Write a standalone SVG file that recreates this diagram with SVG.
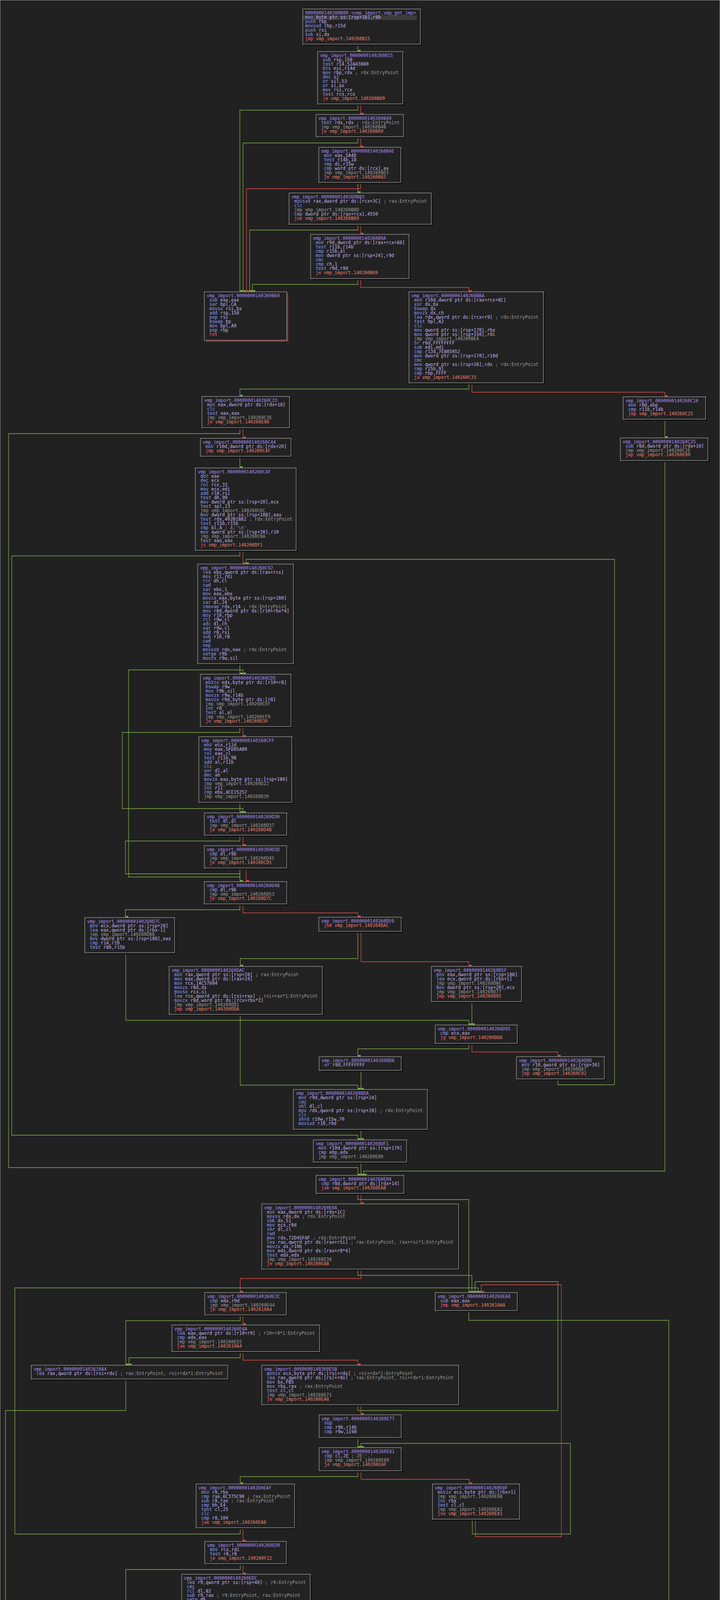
<svg xmlns="http://www.w3.org/2000/svg" width="1843" height="6211" viewBox="0 0 1843 6211">
<defs>
<style>
text{font-family:"DejaVu Sans Mono","Liberation Mono",monospace;font-size:11.5px;fill:#c4b2f2}
.h{fill:#a98cf5}.m{fill:#8c9dff}.g{fill:#9c9c9c}.c{fill:#9c9c9c}.r{fill:#ff5c7c}.n{fill:#f07f6c}
.bx{fill:#222222;stroke:#8e8e8e;stroke-width:1.5}
.sh{fill:#121212}.shr{fill:#8c2c2c}.shb{fill:#7b92f2}
.eg{fill:none;stroke:#80b34c;stroke-width:1.3}
.er{fill:none;stroke:#e84c4c;stroke-width:1.3}
</style>
<marker id="ag" viewBox="0 0 8 8" refX="4" refY="8" markerWidth="8" markerHeight="8" markerUnits="userSpaceOnUse" orient="auto-start-reverse"><path d="M0,0 L8,0 L4,8 Z" fill="#80b34c" transform="rotate(-90 4 4)"/></marker>
<marker id="ar" viewBox="0 0 8 8" refX="4" refY="8" markerWidth="8" markerHeight="8" markerUnits="userSpaceOnUse" orient="auto-start-reverse"><path d="M0,0 L8,0 L4,8 Z" fill="#e84c4c" transform="rotate(-90 4 4)"/></marker>
</defs>
<rect x="0" y="0" width="1843" height="6211" fill="#212121"/>
<rect x="0.5" y="0.5" width="1842" height="6210" fill="none" stroke="#9a9a9a"/>

<g id="connectors">
<path class="eg" marker-end="url(#ag)" d="M916,113V132"/>
<path class="er" marker-end="url(#ar)" d="M923,267V293"/>
<path class="eg" marker-end="url(#ag)" d="M916,267V282H614V747"/>
<path class="er" marker-end="url(#ar)" d="M923,351V377"/>
<path class="eg" marker-end="url(#ag)" d="M916,351V366H622V747"/>
<path class="eg" marker-end="url(#ag)" d="M916,468V494"/>
<path class="er" marker-end="url(#ar)" d="M923,468V483H631V747"/>
<path class="er" marker-end="url(#ar)" d="M923,574V600"/>
<path class="eg" marker-end="url(#ag)" d="M916,574V589H639V747"/>
<path class="eg" marker-end="url(#ag)" d="M916,714V728H646V747"/>
<path class="er" marker-end="url(#ar)" d="M923,714V736H1200V747"/>
<path class="eg" marker-end="url(#ag)" d="M1200,980V996H614V1015"/>
<path class="er" marker-end="url(#ar)" d="M1208,980V1004H1702V1016"/>
<path class="eg" marker-end="url(#ag)" d="M1702,1073V1121"/>
<path class="er" marker-end="url(#ar)" d="M622,1096V1122"/>
<path class="eg" marker-end="url(#ag)" d="M614,1096V1110H22V2989H916V3009"/>
<path class="eg" marker-end="url(#ag)" d="M614,1168V1198"/>
<path class="er" marker-end="url(#ar)" d="M622,1409V1444"/>
<path class="eg" marker-end="url(#ag)" d="M614,1409V1423H30V2906H916V2918"/>
<path class="eg" marker-end="url(#ag)" d="M1428,2762V2777H1573V1432H630V1444"/>
<path class="eg" marker-end="url(#ag)" d="M614,1699V1726"/>
<path class="er" marker-end="url(#ar)" d="M622,1860V1886"/>
<path class="eg" marker-end="url(#ag)" d="M614,1860V1875H313V2070H622V2081"/>
<path class="eg" marker-end="url(#ag)" d="M614,2054V2081"/>
<path class="er" marker-end="url(#ar)" d="M622,2138V2165"/>
<path class="eg" marker-end="url(#ag)" d="M614,2138V2153H321V2237H614V2257"/>
<path class="er" marker-end="url(#ar)" d="M630,2222V2257"/>
<path class="eg" marker-end="url(#ag)" d="M614,2222V2245H329V1715H622V1726"/>
<path class="er" marker-end="url(#ar)" d="M622,2314V2337H916V2348"/>
<path class="eg" marker-end="url(#ag)" d="M614,2314V2329H321V2349"/>
<path class="eg" marker-end="url(#ag)" d="M916,2384V2454H615V2474"/>
<path class="er" marker-end="url(#ar)" d="M924,2384V2462H1200V2474"/>
<path class="eg" marker-end="url(#ag)" d="M322,2439V2612H1200V2624"/>
<path class="eg" marker-end="url(#ag)" d="M1208,2563V2624"/>
<path class="eg" marker-end="url(#ag)" d="M1200,2671V2685H916V2705"/>
<path class="er" marker-end="url(#ar)" d="M1208,2671V2693H1428V2705"/>
<path class="eg" marker-end="url(#ag)" d="M924,2740V2789"/>
<path class="eg" marker-end="url(#ag)" d="M615,2597V2778H916V2789"/>
<path class="eg" marker-end="url(#ag)" d="M924,2891V2918"/>
<path class="eg" marker-end="url(#ag)" d="M924,2974V3009"/>
<path class="eg" marker-end="url(#ag)" d="M1702,1179V2998H931V3009"/>
<path class="er" marker-end="url(#ar)" d="M924,3055V3082"/>
<path class="eg" marker-end="url(#ag)" d="M916,3055V3071H1200V3309"/>
<path class="er" marker-end="url(#ar)" d="M924,3249V3273H615V3309"/>
<path class="eg" marker-end="url(#ag)" d="M916,3249V3265H1208V3309"/>
<path class="er" marker-end="url(#ar)" d="M622,3366V3392"/>
<path class="eg" marker-end="url(#ag)" d="M615,3366V3381H322V3495"/>
<path class="eg" marker-end="url(#ag)" d="M615,3460V3476H330V3495"/>
<path class="er" marker-end="url(#ar)" d="M622,3460V3482H916V3495"/>
<path class="eg" marker-end="url(#ag)" d="M322,3530V3611H14V4846H615V4858"/>
<path class="er" marker-end="url(#ar)" d="M924,3596V3622"/>
<path class="eg" marker-end="url(#ag)" d="M916,3596V3611H1428V3281H1216V3309"/>
<path class="eg" marker-end="url(#ag)" d="M916,3680V3706"/>
<path class="eg" marker-end="url(#ag)" d="M916,3765V3780H615V3799"/>
<path class="er" marker-end="url(#ar)" d="M924,3765V3787H1201V3799"/>
<path class="eg" marker-end="url(#ag)" d="M1209,3888V3927H1460V3695H924V3706"/>
<path class="er" marker-end="url(#ar)" d="M1217,3888V3934H1437V3289H1232V3309"/>
<path class="er" marker-end="url(#ar)" d="M622,3911V3946"/>
<path class="eg" marker-end="url(#ag)" d="M615,3911V3927H38V3297H1224V3309"/>
<path class="er" marker-end="url(#ar)" d="M622,4003V4030"/>
<path class="eg" marker-end="url(#ag)" d="M615,4003V4018H322V4412H615V4430"/>
<path class="eg" marker-end="url(#ag)" d="M615,4131V4158"/>
<path class="er" marker-end="url(#ar)" d="M622,4248V4275"/>
<path class="eg" marker-end="url(#ag)" d="M615,4248V4263H330V4418H622V4430"/>
<path class="eg" marker-end="url(#ag)" d="M630,4388V4404H337V4147H622V4158"/>
<path class="er" marker-end="url(#ar)" d="M638,4388V4430"/>
<path class="er" marker-end="url(#ar)" d="M622,4619V4646"/>
<path class="eg" marker-end="url(#ag)" d="M615,4619V4634H322V4838H615V4858"/>
<path class="eg" marker-end="url(#ag)" d="M615,4726V4744"/>
<path class="er" marker-end="url(#ar)" d="M622,4823V4858"/>
<path class="eg" marker-end="url(#ag)" d="M615,4903V4923"/>
<path class="eg" marker-end="url(#ag)" d="M615,4958V4972H322V4993"/>
<path class="er" marker-end="url(#ar)" d="M622,4958V4980H916V4993"/>
<path class="er" marker-end="url(#ar)" d="M329,5072V5098"/>
<path class="eg" marker-end="url(#ag)" d="M322,5072V5087H25V5905H322V5917"/>
<path class="er" marker-end="url(#ar)" d="M329,5177V5215"/>
<path class="eg" marker-end="url(#ag)" d="M322,5177V5204H38V5764H322V5789"/>
<path class="eg" marker-end="url(#ag)" d="M322,5261V5454"/>
<path class="er" marker-end="url(#ar)" d="M329,5578V5612"/>
<path class="eg" marker-end="url(#ag)" d="M322,5578V5593H45V5771H329V5789"/>
<path class="eg" marker-end="url(#ag)" d="M337,5746V5778H52V5442H329V5454"/>
<path class="er" marker-end="url(#ar)" d="M346,5746V5789"/>
<path class="eg" marker-end="url(#ag)" d="M329,5846V5917"/>
<path class="eg" marker-end="url(#ag)" d="M345,5996V6039"/>
<path class="er" marker-end="url(#ar)" d="M924,5050V5098"/>
<path class="eg" marker-end="url(#ag)" d="M916,5050V5087H615V5762H916V5789"/>
<path class="eg" marker-end="url(#ag)" d="M916,5188V5215"/>
<path class="er" marker-end="url(#ar)" d="M924,5427V5454"/>
<path class="eg" marker-end="url(#ag)" d="M916,5427V5442H622V5592H916V5612"/>
<path class="eg" marker-end="url(#ag)" d="M924,5544V5599H630V5205H924V5215"/>
<path class="er" marker-end="url(#ar)" d="M931,5544V5612"/>
<path class="eg" marker-end="url(#ag)" d="M924,5669V5789"/>
<path class="eg" marker-end="url(#ag)" d="M916,5890V6027H337V6039"/>
<path class="eg" marker-end="url(#ag)" d="M1200,3355V3380H1712V6019H329V6039"/>
<path class="eg" marker-end="url(#ag)" d="M6,6011H321V6039"/>
</g>

<g id="n_B00"><rect class="sh" x="779" y="27" width="301" height="90"/><rect class="bx" x="775" y="23" width="301" height="90"/><rect x="776" y="39" width="291" height="12" fill="#3c3c3c"/>
<text x="781" y="37"><tspan class="h">0000000140260B00 &lt;vmp_import.vmp_get_imp&gt;</tspan><tspan x="781" dy="11"><tspan class="m">mov</tspan> byte ptr ss:[rsp+18],r8b</tspan><tspan x="781" dy="11"><tspan class="m">push</tspan> rbp</tspan><tspan x="781" dy="11"><tspan class="m">movsxd</tspan> rbp,r15d</tspan><tspan x="781" dy="11"><tspan class="m">push</tspan> rsi</tspan><tspan x="781" dy="11"><tspan class="m">sub</tspan> si,dx</tspan><tspan x="781" dy="11"><tspan class="r">jmp</tspan> <tspan class="n">vmp_import.140260B15</tspan></tspan></text></g>

<g id="n_B15"><rect class="sh" x="817" y="136" width="218" height="134"/><rect class="bx" x="813" y="132" width="218" height="134"/>
<text x="819" y="146"><tspan class="h">vmp_import.0000000140260B15</tspan><tspan x="826" dy="11"><tspan class="m">sub</tspan> rsp,158</tspan><tspan x="826" dy="11"><tspan class="m">test</tspan> r14,52A43880</tspan><tspan x="826" dy="11"><tspan class="m">bts</tspan> esi,r14d</tspan><tspan x="826" dy="11"><tspan class="m">mov</tspan> rbp,rdx <tspan class="c">; rdx:EntryPoint</tspan></tspan><tspan x="826" dy="11"><tspan class="m">dec</tspan> si</tspan><tspan x="826" dy="11"><tspan class="m">or</tspan> sil,53</tspan><tspan x="826" dy="11"><tspan class="m">or</tspan> si,ax</tspan><tspan x="826" dy="11"><tspan class="m">mov</tspan> rsi,rcx</tspan><tspan x="826" dy="11"><tspan class="m">test</tspan> rcx,rcx</tspan><tspan x="826" dy="11"><tspan class="r">je</tspan> <tspan class="n">vmp_import.140260B69</tspan></tspan></text></g>

<g id="n_B40"><rect class="sh" x="813" y="297" width="224" height="57"/><rect class="bx" x="809" y="293" width="224" height="57"/>
<text x="815" y="307"><tspan class="h">vmp_import.0000000140260B40</tspan><tspan x="822" dy="11"><tspan class="m">test</tspan> rdx,rdx <tspan class="c">; rdx:EntryPoint</tspan></tspan><tspan x="822" dy="11" class="g">jmp vmp_import.140260B48</tspan><tspan x="822" dy="11"><tspan class="r">je</tspan> <tspan class="n">vmp_import.140260B69</tspan></tspan></text></g>

<g id="n_B4E"><rect class="sh" x="820" y="381" width="210" height="90"/><rect class="bx" x="816" y="377" width="210" height="90"/>
<text x="822" y="391"><tspan class="h">vmp_import.0000000140260B4E</tspan><tspan x="829" dy="11"><tspan class="m">mov</tspan> eax,5A4D</tspan><tspan x="829" dy="11"><tspan class="m">test</tspan> r14b,18</tspan><tspan x="829" dy="11"><tspan class="m">cmp</tspan> di,r15w</tspan><tspan x="829" dy="11"><tspan class="m">cmp</tspan> word ptr ds:[rcx],ax</tspan><tspan x="829" dy="11" class="g">jmp vmp_import.140260B63</tspan><tspan x="829" dy="11"><tspan class="r">je</tspan> <tspan class="n">vmp_import.140260B83</tspan></tspan></text></g>

<g id="n_B83"><rect class="sh" x="744" y="498" width="364" height="80"/><rect class="bx" x="740" y="494" width="364" height="80"/>
<text x="746" y="508"><tspan class="h">vmp_import.0000000140260B83</tspan><tspan x="753" dy="11"><tspan class="m">movsxd</tspan> rax,dword ptr ds:[rcx+3C] <tspan class="c">; rax:EntryPoint</tspan></tspan><tspan x="753" dy="11"><tspan class="m">clc</tspan></tspan><tspan x="753" dy="11" class="g">jmp vmp_import.140260B8D</tspan><tspan x="753" dy="11"><tspan class="m">cmp</tspan> dword ptr ds:[rax+rcx],4550</tspan><tspan x="753" dy="11"><tspan class="r">jne</tspan> <tspan class="n">vmp_import.140260B69</tspan></tspan></text></g>

<g id="n_B9A"><rect class="sh" x="799" y="604" width="252" height="113"/><rect class="bx" x="795" y="600" width="252" height="113"/>
<text x="801" y="614"><tspan class="h">vmp_import.0000000140260B9A</tspan><tspan x="808" dy="11"><tspan class="m">mov</tspan> r9d,dword ptr ds:[rax+rcx+88]</tspan><tspan x="808" dy="11"><tspan class="m">test</tspan> r11b,r14b</tspan><tspan x="808" dy="11"><tspan class="m">cmp</tspan> r15b,al</tspan><tspan x="808" dy="11"><tspan class="m">mov</tspan> dword ptr ss:[rsp+24],r9d</tspan><tspan x="808" dy="11"><tspan class="m">cmc</tspan></tspan><tspan x="808" dy="11"><tspan class="m">cmp</tspan> ch,1</tspan><tspan x="808" dy="11"><tspan class="m">test</tspan> r9d,r9d</tspan><tspan x="808" dy="11"><tspan class="r">je</tspan> <tspan class="n">vmp_import.140260B69</tspan></tspan></text></g>

<g id="n_B69"><rect class="shr" x="527" y="751" width="211" height="124"/><rect class="bx" x="523" y="747" width="211" height="124"/>
<text x="529" y="761"><tspan class="h">vmp_import.0000000140260B69</tspan><tspan x="536" dy="11"><tspan class="m">sub</tspan> eax,eax</tspan><tspan x="536" dy="11"><tspan class="m">sar</tspan> bpl,CA</tspan><tspan x="536" dy="11"><tspan class="m">movsx</tspan> rsi,bx</tspan><tspan x="536" dy="11"><tspan class="m">add</tspan> rsp,158</tspan><tspan x="536" dy="11"><tspan class="m">pop</tspan> rsi</tspan><tspan x="536" dy="11"><tspan class="m">bswap</tspan> bp</tspan><tspan x="536" dy="11"><tspan class="m">mov</tspan> bpl,A9</tspan><tspan x="536" dy="11"><tspan class="m">pop</tspan> rbp</tspan><tspan x="536" dy="11" class="r">ret</tspan></text></g>

<g id="n_BBA"><rect class="sh" x="1051" y="751" width="344" height="233"/><rect class="bx" x="1047" y="747" width="344" height="233"/>
<text x="1053" y="761"><tspan class="h">vmp_import.0000000140260BBA</tspan><tspan x="1060" dy="11"><tspan class="m">mov</tspan> r10d,dword ptr ds:[rax+rcx+8C]</tspan><tspan x="1060" dy="11"><tspan class="m">xor</tspan> dx,bx</tspan><tspan x="1060" dy="11"><tspan class="m">bswap</tspan> dx</tspan><tspan x="1060" dy="11"><tspan class="m">movzx</tspan> dx,ch</tspan><tspan x="1060" dy="11"><tspan class="m">lea</tspan> rdx,qword ptr ds:[rcx+r9] <tspan class="c">; rdx:EntryPoint</tspan></tspan><tspan x="1060" dy="11"><tspan class="m">test</tspan> bpl,A2</tspan><tspan x="1060" dy="11"><tspan class="m">clc</tspan></tspan><tspan x="1060" dy="11"><tspan class="m">mov</tspan> qword ptr ss:[rsp+178],rbx</tspan><tspan x="1060" dy="11"><tspan class="m">mov</tspan> qword ptr ss:[rsp+150],rdi</tspan><tspan x="1060" dy="11" class="g">jmp vmp_import.140260BEA</tspan><tspan x="1060" dy="11"><tspan class="m">or</tspan> r8d,FFFFFFFF</tspan><tspan x="1060" dy="11"><tspan class="m">sub</tspan> edi,edi</tspan><tspan x="1060" dy="11"><tspan class="m">cmp</tspan> r13d,7E885052</tspan><tspan x="1060" dy="11"><tspan class="m">mov</tspan> dword ptr ss:[rsp+170],r10d</tspan><tspan x="1060" dy="11"><tspan class="m">cmc</tspan></tspan><tspan x="1060" dy="11"><tspan class="m">mov</tspan> qword ptr ss:[rsp+28],rdx <tspan class="c">; rdx:EntryPoint</tspan></tspan><tspan x="1060" dy="11"><tspan class="m">cmp</tspan> r15b,91</tspan><tspan x="1060" dy="11"><tspan class="m">cmp</tspan> rbp,FFFF</tspan><tspan x="1060" dy="11"><tspan class="r">ja</tspan> <tspan class="n">vmp_import.140260C33</tspan></tspan></text></g>

<g id="n_C33"><rect class="sh" x="521" y="1019" width="224" height="80"/><rect class="bx" x="517" y="1015" width="224" height="80"/>
<text x="523" y="1029"><tspan class="h">vmp_import.0000000140260C33</tspan><tspan x="530" dy="11"><tspan class="m">mov</tspan> eax,dword ptr ds:[rdx+18]</tspan><tspan x="530" dy="11"><tspan class="m">clc</tspan></tspan><tspan x="530" dy="11"><tspan class="m">test</tspan> eax,eax</tspan><tspan x="530" dy="11" class="g">jmp vmp_import.140260C3E</tspan><tspan x="530" dy="11"><tspan class="r">je</tspan> <tspan class="n">vmp_import.140260E00</tspan></tspan></text></g>

<g id="n_C16"><rect class="sh" x="1599" y="1020" width="211" height="57"/><rect class="bx" x="1595" y="1016" width="211" height="57"/>
<text x="1601" y="1030"><tspan class="h">vmp_import.0000000140260C16</tspan><tspan x="1608" dy="11"><tspan class="m">mov</tspan> r8d,ebp</tspan><tspan x="1608" dy="11"><tspan class="m">cmp</tspan> r11b,r14b</tspan><tspan x="1608" dy="11"><tspan class="r">jmp</tspan> <tspan class="n">vmp_import.140260C25</tspan></tspan></text></g>

<g id="n_C25"><rect class="sh" x="1592" y="1125" width="224" height="58"/><rect class="bx" x="1588" y="1121" width="224" height="58"/>
<text x="1594" y="1135"><tspan class="h">vmp_import.0000000140260C25</tspan><tspan x="1601" dy="11"><tspan class="m">sub</tspan> r8d,dword ptr ds:[rdx+10]</tspan><tspan x="1601" dy="11" class="g">jmp vmp_import.140260C2E</tspan><tspan x="1601" dy="11"><tspan class="r">jmp</tspan> <tspan class="n">vmp_import.140260E00</tspan></tspan></text></g>

<g id="n_C44"><rect class="sh" x="517" y="1126" width="232" height="46"/><rect class="bx" x="513" y="1122" width="232" height="46"/>
<text x="519" y="1136"><tspan class="h">vmp_import.0000000140260C44</tspan><tspan x="526" dy="11"><tspan class="m">mov</tspan> r10d,dword ptr ds:[rdx+20]</tspan><tspan x="526" dy="11"><tspan class="r">jmp</tspan> <tspan class="n">vmp_import.140260C4F</tspan></tspan></text></g>

<g id="n_C4F"><rect class="sh" x="504" y="1202" width="258" height="211"/><rect class="bx" x="500" y="1198" width="258" height="211"/>
<text x="506" y="1212"><tspan class="h">vmp_import.0000000140260C4F</tspan><tspan x="513" dy="11"><tspan class="m">dec</tspan> eax</tspan><tspan x="513" dy="11"><tspan class="m">dec</tspan> ecx</tspan><tspan x="513" dy="11"><tspan class="m">rol</tspan> rcx,33</tspan><tspan x="513" dy="11"><tspan class="m">mov</tspan> ecx,edi</tspan><tspan x="513" dy="11"><tspan class="m">add</tspan> r10,rsi</tspan><tspan x="513" dy="11"><tspan class="m">test</tspan> dh,99</tspan><tspan x="513" dy="11"><tspan class="m">mov</tspan> dword ptr ss:[rsp+20],ecx</tspan><tspan x="513" dy="11"><tspan class="m">test</tspan> spl,13</tspan><tspan x="513" dy="11" class="g">jmp vmp_import.140260C6C</tspan><tspan x="513" dy="11"><tspan class="m">mov</tspan> dword ptr ss:[rsp+188],eax</tspan><tspan x="513" dy="11"><tspan class="m">test</tspan> rdx,402B1B82 <tspan class="c">; rdx:EntryPoint</tspan></tspan><tspan x="513" dy="11"><tspan class="m">test</tspan> r15b,r15b</tspan><tspan x="513" dy="11"><tspan class="m">cmp</tspan> bl,A <tspan class="c">; A:'\n'</tspan></tspan><tspan x="513" dy="11"><tspan class="m">mov</tspan> qword ptr ss:[rsp+30],r10</tspan><tspan x="513" dy="11" class="g">jmp vmp_import.140260C8A</tspan><tspan x="513" dy="11"><tspan class="m">test</tspan> eax,eax</tspan><tspan x="513" dy="11"><tspan class="r">js</tspan> <tspan class="n">vmp_import.140260DF1</tspan></tspan></text></g>

<g id="n_C92"><rect class="sh" x="510" y="1448" width="245" height="255"/><rect class="bx" x="506" y="1444" width="245" height="255"/>
<text x="512" y="1458"><tspan class="h">vmp_import.0000000140260C92</tspan><tspan x="519" dy="11"><tspan class="m">lea</tspan> ebx,qword ptr ds:[rax+rcx]</tspan><tspan x="519" dy="11"><tspan class="m">mov</tspan> r11,rdi</tspan><tspan x="519" dy="11"><tspan class="m">rcr</tspan> dh,cl</tspan><tspan x="519" dy="11"><tspan class="m">cwd</tspan></tspan><tspan x="519" dy="11"><tspan class="m">sar</tspan> ebx,1</tspan><tspan x="519" dy="11"><tspan class="m">mov</tspan> eax,ebx</tspan><tspan x="519" dy="11"><tspan class="m">movzx</tspan> eax,byte ptr ss:[rsp+180]</tspan><tspan x="519" dy="11"><tspan class="m">sar</tspan> dl,24</tspan><tspan x="519" dy="11"><tspan class="m">cmovae</tspan> rdx,r14 <tspan class="c">; rdx:EntryPoint</tspan></tspan><tspan x="519" dy="11"><tspan class="m">mov</tspan> r8d,dword ptr ds:[r10+rbx*4]</tspan><tspan x="519" dy="11"><tspan class="m">mov</tspan> r10,rbp</tspan><tspan x="519" dy="11"><tspan class="m">rcl</tspan> r9w,cl</tspan><tspan x="519" dy="11"><tspan class="m">adc</tspan> dl,ch</tspan><tspan x="519" dy="11"><tspan class="m">sar</tspan> r9w,cl</tspan><tspan x="519" dy="11"><tspan class="m">add</tspan> r8,rsi</tspan><tspan x="519" dy="11"><tspan class="m">sub</tspan> r10,r8</tspan><tspan x="519" dy="11"><tspan class="m">cwd</tspan></tspan><tspan x="519" dy="11"><tspan class="m">nop</tspan></tspan><tspan x="519" dy="11"><tspan class="m">movsxd</tspan> rdx,eax <tspan class="c">; rdx:EntryPoint</tspan></tspan><tspan x="519" dy="11"><tspan class="m">setge</tspan> r9b</tspan><tspan x="519" dy="11"><tspan class="m">movzx</tspan> r9w,sil</tspan></text></g>

<g id="n_CD5"><rect class="sh" x="517" y="1730" width="232" height="134"/><rect class="bx" x="513" y="1726" width="232" height="134"/>
<text x="519" y="1740"><tspan class="h">vmp_import.0000000140260CD5</tspan><tspan x="526" dy="11"><tspan class="m">movzx</tspan> edx,byte ptr ds:[r10+r8]</tspan><tspan x="526" dy="11"><tspan class="m">bswap</tspan> r9w</tspan><tspan x="526" dy="11"><tspan class="m">mov</tspan> r9b,sil</tspan><tspan x="526" dy="11"><tspan class="m">movzx</tspan> r9w,r14b</tspan><tspan x="526" dy="11"><tspan class="m">movzx</tspan> r9d,byte ptr ds:[r8]</tspan><tspan x="526" dy="11" class="g">jmp vmp_import.140260CEF</tspan><tspan x="526" dy="11"><tspan class="m">inc</tspan> r8</tspan><tspan x="526" dy="11"><tspan class="m">test</tspan> al,al</tspan><tspan x="526" dy="11" class="g">jmp vmp_import.140260CF9</tspan><tspan x="526" dy="11"><tspan class="r">je</tspan> <tspan class="n">vmp_import.140260D30</tspan></tspan></text></g>

<g id="n_CFF"><rect class="sh" x="513" y="1890" width="238" height="168"/><rect class="bx" x="509" y="1886" width="238" height="168"/>
<text x="515" y="1900"><tspan class="h">vmp_import.0000000140260CFF</tspan><tspan x="522" dy="11"><tspan class="m">mov</tspan> ecx,r11d</tspan><tspan x="522" dy="11"><tspan class="m">mov</tspan> eax,5FD85A89</tspan><tspan x="522" dy="11"><tspan class="m">rol</tspan> eax,cl</tspan><tspan x="522" dy="11"><tspan class="m">test</tspan> r11b,9B</tspan><tspan x="522" dy="11"><tspan class="m">add</tspan> al,r11b</tspan><tspan x="522" dy="11"><tspan class="m">clc</tspan></tspan><tspan x="522" dy="11"><tspan class="m">xor</tspan> dl,al</tspan><tspan x="522" dy="11"><tspan class="m">dec</tspan> ah</tspan><tspan x="522" dy="11"><tspan class="m">movzx</tspan> eax,byte ptr ss:[rsp+180]</tspan><tspan x="522" dy="11" class="g">jmp vmp_import.140260D22</tspan><tspan x="522" dy="11"><tspan class="m">inc</tspan> r11</tspan><tspan x="522" dy="11"><tspan class="m">cmp</tspan> ebx,4CE15257</tspan><tspan x="522" dy="11" class="g">jmp vmp_import.140260D30</tspan></text></g>

<g id="n_D30"><rect class="sh" x="527" y="2085" width="211" height="57"/><rect class="bx" x="523" y="2081" width="211" height="57"/>
<text x="529" y="2095"><tspan class="h">vmp_import.0000000140260D30</tspan><tspan x="536" dy="11"><tspan class="m">test</tspan> dl,dl</tspan><tspan x="536" dy="11" class="g">jmp vmp_import.140260D37</tspan><tspan x="536" dy="11"><tspan class="r">je</tspan> <tspan class="n">vmp_import.140260D4B</tspan></tspan></text></g>

<g id="n_D3D"><rect class="sh" x="527" y="2169" width="211" height="57"/><rect class="bx" x="523" y="2165" width="211" height="57"/>
<text x="529" y="2179"><tspan class="h">vmp_import.0000000140260D3D</tspan><tspan x="536" dy="11"><tspan class="m">cmp</tspan> dl,r9b</tspan><tspan x="536" dy="11" class="g">jmp vmp_import.140260D45</tspan><tspan x="536" dy="11"><tspan class="r">je</tspan> <tspan class="n">vmp_import.140260CD5</tspan></tspan></text></g>

<g id="n_D4B"><rect class="sh" x="527" y="2261" width="211" height="57"/><rect class="bx" x="523" y="2257" width="211" height="57"/>
<text x="529" y="2271"><tspan class="h">vmp_import.0000000140260D4B</tspan><tspan x="536" dy="11"><tspan class="m">cmp</tspan> dl,r9b</tspan><tspan x="536" dy="11" class="g">jmp vmp_import.140260D53</tspan><tspan x="536" dy="11"><tspan class="r">jb</tspan> <tspan class="n">vmp_import.140260D7C</tspan></tspan></text></g>

<g id="n_D59"><rect class="sh" x="820" y="2352" width="211" height="36"/><rect class="bx" x="816" y="2348" width="211" height="36"/>
<text x="822" y="2362"><tspan class="h">vmp_import.0000000140260D59</tspan><tspan x="829" dy="11"><tspan class="r">jbe</tspan> <tspan class="n">vmp_import.140260DAC</tspan></tspan></text></g>

<g id="n_D7C"><rect class="sh" x="221" y="2353" width="230" height="90"/><rect class="bx" x="217" y="2349" width="230" height="90"/>
<text x="223" y="2363"><tspan class="h">vmp_import.0000000140260D7C</tspan><tspan x="230" dy="11"><tspan class="m">mov</tspan> ecx,dword ptr ss:[rsp+20]</tspan><tspan x="230" dy="11"><tspan class="m">lea</tspan> eax,qword ptr ds:[rbx-1]</tspan><tspan x="230" dy="11" class="g">jmp vmp_import.140260D88</tspan><tspan x="230" dy="11"><tspan class="m">mov</tspan> dword ptr ss:[rsp+188],eax</tspan><tspan x="230" dy="11"><tspan class="m">cmp</tspan> r14,r10</tspan><tspan x="230" dy="11"><tspan class="m">test</tspan> r8b,r15b</tspan></text></g>

<g id="n_DAC"><rect class="sh" x="437" y="2478" width="392" height="123"/><rect class="bx" x="433" y="2474" width="392" height="123"/>
<text x="439" y="2488"><tspan class="h">vmp_import.0000000140260DAC</tspan><tspan x="446" dy="11"><tspan class="m">mov</tspan> rax,qword ptr ss:[rsp+28] <tspan class="c">; rax:EntryPoint</tspan></tspan><tspan x="446" dy="11"><tspan class="m">mov</tspan> eax,dword ptr ds:[rax+24]</tspan><tspan x="446" dy="11"><tspan class="m">mov</tspan> rcx,14C57684</tspan><tspan x="446" dy="11"><tspan class="m">movzx</tspan> r8d,dx</tspan><tspan x="446" dy="11"><tspan class="m">movsx</tspan> rcx,si</tspan><tspan x="446" dy="11"><tspan class="m">lea</tspan> rcx,qword ptr ds:[rsi+rax] <tspan class="c">; rsi+rax*1:EntryPoint</tspan></tspan><tspan x="446" dy="11"><tspan class="m">movzx</tspan> r8d,word ptr ds:[rcx+rbx*2]</tspan><tspan x="446" dy="11" class="g">jmp vmp_import.140260DD1</tspan><tspan x="446" dy="11"><tspan class="r">jmp</tspan> <tspan class="n">vmp_import.140260DDA</tspan></tspan></text></g>

<g id="n_D5F"><rect class="sh" x="1108" y="2478" width="231" height="90"/><rect class="bx" x="1104" y="2474" width="231" height="90"/>
<text x="1110" y="2488"><tspan class="h">vmp_import.0000000140260D5F</tspan><tspan x="1117" dy="11"><tspan class="m">mov</tspan> eax,dword ptr ss:[rsp+188]</tspan><tspan x="1117" dy="11"><tspan class="m">lea</tspan> ecx,qword ptr ds:[rbx+1]</tspan><tspan x="1117" dy="11" class="g">jmp vmp_import.140260D6E</tspan><tspan x="1117" dy="11"><tspan class="m">mov</tspan> dword ptr ss:[rsp+20],ecx</tspan><tspan x="1117" dy="11" class="g">jmp vmp_import.140260D77</tspan><tspan x="1117" dy="11"><tspan class="r">jmp</tspan> <tspan class="n">vmp_import.140260D95</tspan></tspan></text></g>

<g id="n_D95"><rect class="sh" x="1118" y="2628" width="210" height="47"/><rect class="bx" x="1114" y="2624" width="210" height="47"/>
<text x="1120" y="2638"><tspan class="h">vmp_import.0000000140260D95</tspan><tspan x="1127" dy="11"><tspan class="m">cmp</tspan> ecx,eax</tspan><tspan x="1127" dy="11"><tspan class="r">jg</tspan> <tspan class="n">vmp_import.140260DD6</tspan></tspan></text></g>

<g id="n_DD6"><rect class="sh" x="821" y="2709" width="210" height="35"/><rect class="bx" x="817" y="2705" width="210" height="35"/>
<text x="823" y="2719"><tspan class="h">vmp_import.0000000140260DD6</tspan><tspan x="830" dy="11"><tspan class="m">or</tspan> r8d,FFFFFFFF</tspan></text></g>

<g id="n_D9D"><rect class="sh" x="1326" y="2709" width="225" height="57"/><rect class="bx" x="1322" y="2705" width="225" height="57"/>
<text x="1328" y="2719"><tspan class="h">vmp_import.0000000140260D9D</tspan><tspan x="1335" dy="11"><tspan class="m">mov</tspan> r10,qword ptr ss:[rsp+30]</tspan><tspan x="1335" dy="11" class="g">jmp vmp_import.140260DA7</tspan><tspan x="1335" dy="11"><tspan class="r">jmp</tspan> <tspan class="n">vmp_import.140260C92</tspan></tspan></text></g>

<g id="n_DDA"><rect class="sh" x="755" y="2793" width="343" height="102"/><rect class="bx" x="751" y="2789" width="343" height="102"/>
<text x="757" y="2803"><tspan class="h">vmp_import.0000000140260DDA</tspan><tspan x="764" dy="11"><tspan class="m">mov</tspan> r9d,dword ptr ss:[rsp+24]</tspan><tspan x="764" dy="11"><tspan class="m">cmc</tspan></tspan><tspan x="764" dy="11"><tspan class="m">shl</tspan> dl,cl</tspan><tspan x="764" dy="11"><tspan class="m">mov</tspan> rdx,qword ptr ss:[rsp+28] <tspan class="c">; rdx:EntryPoint</tspan></tspan><tspan x="764" dy="11"><tspan class="m">clc</tspan></tspan><tspan x="764" dy="11"><tspan class="m">shrd</tspan> r10w,r15w,70</tspan><tspan x="764" dy="11"><tspan class="m">movsxd</tspan> r10,r9d</tspan></text></g>

<g id="n_DF1"><rect class="sh" x="806" y="2922" width="239" height="57"/><rect class="bx" x="802" y="2918" width="239" height="57"/>
<text x="808" y="2932"><tspan class="h">vmp_import.0000000140260DF1</tspan><tspan x="815" dy="11"><tspan class="m">mov</tspan> r10d,dword ptr ss:[rsp+170]</tspan><tspan x="815" dy="11"><tspan class="m">cmp</tspan> ebp,edx</tspan><tspan x="815" dy="11" class="g">jmp vmp_import.140260E00</tspan></text></g>

<g id="n_E00"><rect class="sh" x="813" y="3013" width="225" height="46"/><rect class="bx" x="809" y="3009" width="225" height="46"/>
<text x="815" y="3023"><tspan class="h">vmp_import.0000000140260E00</tspan><tspan x="822" dy="11"><tspan class="m">cmp</tspan> r8d,dword ptr ds:[rdx+14]</tspan><tspan x="822" dy="11"><tspan class="r">jae</tspan> <tspan class="n">vmp_import.140260EA8</tspan></tspan></text></g>

<g id="n_E0A"><rect class="sh" x="674" y="3086" width="504" height="167"/><rect class="bx" x="670" y="3082" width="504" height="167"/>
<text x="676" y="3096"><tspan class="h">vmp_import.0000000140260E0A</tspan><tspan x="683" dy="11"><tspan class="m">mov</tspan> eax,dword ptr ds:[rdx+1C]</tspan><tspan x="683" dy="11"><tspan class="m">movsx</tspan> rdx,dx <tspan class="c">; rdx:EntryPoint</tspan></tspan><tspan x="683" dy="11"><tspan class="m">sbb</tspan> dx,51</tspan><tspan x="683" dy="11"><tspan class="m">mov</tspan> ecx,r8d</tspan><tspan x="683" dy="11"><tspan class="m">shr</tspan> dl,cl</tspan><tspan x="683" dy="11"><tspan class="m">cwd</tspan></tspan><tspan x="683" dy="11"><tspan class="m">mov</tspan> rdx,72D45FAF <tspan class="c">; rdx:EntryPoint</tspan></tspan><tspan x="683" dy="11"><tspan class="m">lea</tspan> rax,qword ptr ds:[rax+rsi] <tspan class="c">; rax:EntryPoint, rax+rsi*1:EntryPoint</tspan></tspan><tspan x="683" dy="11"><tspan class="m">movzx</tspan> dx,r10b</tspan><tspan x="683" dy="11"><tspan class="m">mov</tspan> edx,dword ptr ds:[rax+r8*4]</tspan><tspan x="683" dy="11"><tspan class="m">test</tspan> edx,edx</tspan><tspan x="683" dy="11" class="g">jmp vmp_import.140260E36</tspan><tspan x="683" dy="11"><tspan class="r">je</tspan> <tspan class="n">vmp_import.140260EA8</tspan></tspan></text></g>

<g id="n_EA8"><rect class="sh" x="1118" y="3313" width="210" height="46"/><rect class="bx" x="1114" y="3309" width="210" height="46"/>
<text x="1120" y="3323"><tspan class="h">vmp_import.0000000140260EA8</tspan><tspan x="1127" dy="11"><tspan class="m">sub</tspan> eax,eax</tspan><tspan x="1127" dy="11"><tspan class="r">jmp</tspan> <tspan class="n">vmp_import.1402610A8</tspan></tspan></text></g>

<g id="n_E3C"><rect class="sh" x="528" y="3313" width="209" height="57"/><rect class="bx" x="524" y="3309" width="209" height="57"/>
<text x="530" y="3323"><tspan class="h">vmp_import.0000000140260E3C</tspan><tspan x="537" dy="11"><tspan class="m">cmp</tspan> edx,r9d</tspan><tspan x="537" dy="11" class="g">jmp vmp_import.140260E44</tspan><tspan x="537" dy="11"><tspan class="r">jb</tspan> <tspan class="n">vmp_import.1402610A4</tspan></tspan></text></g>

<g id="n_E4A"><rect class="sh" x="444" y="3396" width="378" height="68"/><rect class="bx" x="440" y="3392" width="378" height="68"/>
<text x="446" y="3406"><tspan class="h">vmp_import.0000000140260E4A</tspan><tspan x="453" dy="11"><tspan class="m">lea</tspan> eax,qword ptr ds:[r10+r9] <tspan class="c">; r10+r9*1:EntryPoint</tspan></tspan><tspan x="453" dy="11"><tspan class="m">cmp</tspan> edx,eax</tspan><tspan x="453" dy="11" class="g">jmp vmp_import.140260E55</tspan><tspan x="453" dy="11"><tspan class="r">jae</tspan> <tspan class="n">vmp_import.1402610A4</tspan></tspan></text></g>

<g id="n_2610A4"><rect class="sh" x="84" y="3499" width="503" height="35"/><rect class="bx" x="80" y="3495" width="503" height="35"/>
<text x="86" y="3509"><tspan class="h">vmp_import.00000001402610A4</tspan><tspan x="93" dy="11"><tspan class="m">lea</tspan> rax,qword ptr ds:[rsi+rdx] <tspan class="c">; rax:EntryPoint, rsi+rdx*1:EntryPoint</tspan></tspan></text></g>

<g id="n_E5B"><rect class="sh" x="674" y="3499" width="504" height="101"/><rect class="bx" x="670" y="3495" width="504" height="101"/>
<text x="676" y="3509"><tspan class="h">vmp_import.0000000140260E5B</tspan><tspan x="683" dy="11"><tspan class="m">movzx</tspan> ecx,byte ptr ds:[rsi+rdx] <tspan class="c">; rsi+rdx*1:EntryPoint</tspan></tspan><tspan x="683" dy="11"><tspan class="m">lea</tspan> rax,qword ptr ds:[rsi+rdx] <tspan class="c">; rax:EntryPoint, rsi+rdx*1:EntryPoint</tspan></tspan><tspan x="683" dy="11"><tspan class="m">mov</tspan> bx,FB5</tspan><tspan x="683" dy="11"><tspan class="m">mov</tspan> rbx,rax <tspan class="c">; rax:EntryPoint</tspan></tspan><tspan x="683" dy="11"><tspan class="m">test</tspan> cl,cl</tspan><tspan x="683" dy="11" class="g">jmp vmp_import.140260E71</tspan><tspan x="683" dy="11"><tspan class="r">je</tspan> <tspan class="n">vmp_import.140260EA8</tspan></tspan></text></g>

<g id="n_E77"><rect class="sh" x="821" y="3626" width="210" height="58"/><rect class="bx" x="817" y="3622" width="210" height="58"/>
<text x="823" y="3636"><tspan class="h">vmp_import.0000000140260E77</tspan><tspan x="830" dy="11"><tspan class="m">nop</tspan></tspan><tspan x="830" dy="11"><tspan class="m">cmp</tspan> r9b,r14b</tspan><tspan x="830" dy="11"><tspan class="m">cmp</tspan> r9w,1198</tspan></text></g>

<g id="n_E81"><rect class="sh" x="821" y="3710" width="210" height="59"/><rect class="bx" x="817" y="3706" width="210" height="59"/>
<text x="823" y="3720"><tspan class="h">vmp_import.0000000140260E81</tspan><tspan x="830" dy="11"><tspan class="m">cmp</tspan> cl,2E <tspan class="c">; 2E:'.'</tspan></tspan><tspan x="830" dy="11" class="g">jmp vmp_import.140260E89</tspan><tspan x="830" dy="11"><tspan class="r">je</tspan> <tspan class="n">vmp_import.140260EAF</tspan></tspan></text></g>

<g id="n_EAF"><rect class="sh" x="506" y="3803" width="252" height="112"/><rect class="bx" x="502" y="3799" width="252" height="112"/>
<text x="508" y="3813"><tspan class="h">vmp_import.0000000140260EAF</tspan><tspan x="515" dy="11"><tspan class="m">mov</tspan> r8,rbx</tspan><tspan x="515" dy="11"><tspan class="m">cmp</tspan> rax,6C375C90 <tspan class="c">; rax:EntryPoint</tspan></tspan><tspan x="515" dy="11"><tspan class="m">sub</tspan> r8,rax <tspan class="c">; rax:EntryPoint</tspan></tspan><tspan x="515" dy="11"><tspan class="m">cmp</tspan> bh,E4</tspan><tspan x="515" dy="11"><tspan class="m">test</tspan> cl,25</tspan><tspan x="515" dy="11"><tspan class="m">clc</tspan></tspan><tspan x="515" dy="11"><tspan class="m">cmp</tspan> r8,104</tspan><tspan x="515" dy="11"><tspan class="r">jae</tspan> <tspan class="n">vmp_import.140260EA8</tspan></tspan></text></g>

<g id="n_E8F"><rect class="sh" x="1111" y="3803" width="223" height="90"/><rect class="bx" x="1107" y="3799" width="223" height="90"/>
<text x="1113" y="3813"><tspan class="h">vmp_import.0000000140260E8F</tspan><tspan x="1120" dy="11"><tspan class="m">movzx</tspan> ecx,byte ptr ds:[rbx+1]</tspan><tspan x="1120" dy="11" class="g">jmp vmp_import.140260E98</tspan><tspan x="1120" dy="11"><tspan class="m">inc</tspan> rbx</tspan><tspan x="1120" dy="11"><tspan class="m">test</tspan> cl,cl</tspan><tspan x="1120" dy="11" class="g">jmp vmp_import.140260EA2</tspan><tspan x="1120" dy="11"><tspan class="r">jne</tspan> <tspan class="n">vmp_import.140260E81</tspan></tspan></text></g>

<g id="n_ED0"><rect class="sh" x="528" y="3950" width="209" height="57"/><rect class="bx" x="524" y="3946" width="209" height="57"/>
<text x="530" y="3960"><tspan class="h">vmp_import.0000000140260ED0</tspan><tspan x="537" dy="11"><tspan class="m">mov</tspan> rcx,rdi</tspan><tspan x="537" dy="11"><tspan class="m">test</tspan> r8,r8</tspan><tspan x="537" dy="11"><tspan class="r">je</tspan> <tspan class="n">vmp_import.140260F22</tspan></tspan></text></g>

<g id="n_EDC"><rect class="sh" x="469" y="4034" width="329" height="101"/><rect class="bx" x="465" y="4030" width="329" height="101"/>
<text x="471" y="4044"><tspan class="h">vmp_import.0000000140260EDC</tspan><tspan x="478" dy="11"><tspan class="m">lea</tspan> r9,qword ptr ss:[rsp+40] <tspan class="c">; r9:EntryPoint</tspan></tspan><tspan x="478" dy="11"><tspan class="m">cmc</tspan></tspan><tspan x="478" dy="11"><tspan class="m">rcl</tspan> dl,82</tspan><tspan x="478" dy="11"><tspan class="m">sub</tspan> r9,rax <tspan class="c">; r9:EntryPoint, rax:EntryPoint</tspan></tspan><tspan x="478" dy="11"><tspan class="m">setg</tspan> dh</tspan><tspan x="478" dy="11"><tspan class="m">movsx</tspan> dx,r15b</tspan><tspan x="478" dy="11"><tspan class="m">movsx</tspan> edx,r12w</tspan></text></g>

<g id="n_EF4"><rect class="sh" x="469" y="4162" width="329" height="90"/><rect class="bx" x="465" y="4158" width="329" height="90"/>
<text x="471" y="4172"><tspan class="h">vmp_import.0000000140260EF4</tspan><tspan x="478" dy="11"><tspan class="m">movzx</tspan> edx,byte ptr ds:[rax] <tspan class="c">; rax:EntryPoint</tspan></tspan><tspan x="478" dy="11"><tspan class="m">stc</tspan></tspan><tspan x="478" dy="11"><tspan class="m">cmc</tspan></tspan><tspan x="478" dy="11"><tspan class="m">test</tspan> dl,dl</tspan><tspan x="478" dy="11" class="g">jmp vmp_import.140260F00</tspan><tspan x="478" dy="11"><tspan class="r">je</tspan> <tspan class="n">vmp_import.140260F22</tspan></tspan></text></g>

<g id="n_F06"><rect class="sh" x="528" y="4279" width="209" height="113"/><rect class="bx" x="524" y="4275" width="209" height="113"/>
<text x="530" y="4289"><tspan class="h">vmp_import.0000000140260F06</tspan><tspan x="537" dy="11"><tspan class="m">inc</tspan> rcx</tspan><tspan x="537" dy="11"><tspan class="m">mov</tspan> byte ptr ds:[r9+rax],dl</tspan><tspan x="537" dy="11"><tspan class="m">inc</tspan> rax <tspan class="c">; rax:EntryPoint</tspan></tspan><tspan x="537" dy="11"><tspan class="m">stc</tspan></tspan><tspan x="537" dy="11"><tspan class="m">test</tspan> r8b,dil</tspan><tspan x="537" dy="11"><tspan class="m">cmp</tspan> rcx,r8</tspan><tspan x="537" dy="11" class="g">jmp vmp_import.140260F1C</tspan><tspan x="537" dy="11"><tspan class="r">jb</tspan> <tspan class="n">vmp_import.140260EF4</tspan></tspan></text></g>

<g id="n_F22"><rect class="shb" x="402" y="4434" width="461" height="189"/><rect class="bx" x="398" y="4430" width="461" height="189"/>
<text x="404" y="4444"><tspan class="h">vmp_import.0000000140260F22</tspan><tspan x="411" dy="11"><tspan class="m">mov</tspan> byte ptr ss:[rsp+rcx+40],dil</tspan><tspan x="411" dy="11"><tspan class="m">movzx</tspan> ax,r12b</tspan><tspan x="411" dy="11"><tspan class="m">cwde</tspan></tspan><tspan x="411" dy="11" class="g">jmp vmp_import.140260F32</tspan><tspan x="411" dy="11"><tspan class="m">lea</tspan> rcx,qword ptr ss:[rsp+40]</tspan><tspan x="411" dy="11"><tspan class="m">cdqe</tspan></tspan><tspan x="411" dy="11"><tspan class="m">movzx</tspan> rax,bp <tspan class="c">; rax:EntryPoint</tspan></tspan><tspan x="411" dy="11"><tspan class="m">mov</tspan> rax,qword ptr ds:[<tspan class="n">&lt;&amp;GetModuleHandleAStub&gt;</tspan>] <tspan class="c">; rax:EntryPoint</tspan></tspan><tspan x="411" dy="11"><tspan class="r">call</tspan> rax <tspan class="c">; rax:EntryPoint</tspan></tspan><tspan x="411" dy="11"><tspan class="m">mov</tspan> r11,rax <tspan class="c">; rax:EntryPoint</tspan></tspan><tspan x="411" dy="11"><tspan class="m">stc</tspan></tspan><tspan x="411" dy="11"><tspan class="m">test</tspan> sil,r14b</tspan><tspan x="411" dy="11"><tspan class="m">test</tspan> rax,rax <tspan class="c">; rax:EntryPoint</tspan></tspan><tspan x="411" dy="11" class="g">jmp vmp_import.140260F55</tspan><tspan x="411" dy="11"><tspan class="r">jne</tspan> <tspan class="n">vmp_import.14019FB58</tspan></tspan></text></g>

<g id="n_F5B"><rect class="sh" x="415" y="4650" width="435" height="80"/><rect class="bx" x="411" y="4646" width="435" height="80"/>
<text x="417" y="4660"><tspan class="h">vmp_import.0000000140260F5B</tspan><tspan x="424" dy="11"><tspan class="m">lea</tspan> rcx,qword ptr ss:[rsp+40]</tspan><tspan x="424" dy="11"><tspan class="m">movsx</tspan> ax,spl</tspan><tspan x="424" dy="11"><tspan class="m">not</tspan> al</tspan><tspan x="424" dy="11"><tspan class="m">mov</tspan> rax,qword ptr ds:[<tspan class="n">&lt;&amp;LoadLibraryAStub&gt;</tspan>] <tspan class="c">; rax:EntryPoint</tspan></tspan><tspan x="424" dy="11"><tspan class="r">jmp</tspan> <tspan class="n">vmp_import.14019FB47</tspan></tspan></text></g>

<g id="n_FB47"><rect class="shb" x="521" y="4748" width="224" height="79"/><rect class="bx" x="517" y="4744" width="224" height="79"/>
<text x="523" y="4758"><tspan class="h">vmp_import.000000014019FB47</tspan><tspan x="530" dy="11"><tspan class="r">call</tspan> rax <tspan class="c">; rax:EntryPoint</tspan></tspan><tspan x="530" dy="11"><tspan class="m">mov</tspan> r11,rax <tspan class="c">; rax:EntryPoint</tspan></tspan><tspan x="530" dy="11"><tspan class="m">test</tspan> r15b,r13b</tspan><tspan x="530" dy="11"><tspan class="m">test</tspan> rax,rax <tspan class="c">; rax:EntryPoint</tspan></tspan><tspan x="530" dy="11"><tspan class="r">je</tspan> <tspan class="n">vmp_import.140260EA8</tspan></tspan></text></g>

<g id="n_FB58"><rect class="sh" x="528" y="4862" width="209" height="46"/><rect class="bx" x="524" y="4858" width="209" height="46"/>
<text x="530" y="4872"><tspan class="h">vmp_import.000000014019FB58</tspan><tspan x="537" dy="11"><tspan class="m">cmp</tspan> r11,rsi</tspan><tspan x="537" dy="11"><tspan class="r">jmp</tspan> <tspan class="n">vmp_import.140260F73</tspan></tspan></text></g>

<g id="n_F73"><rect class="sh" x="528" y="4927" width="209" height="35"/><rect class="bx" x="524" y="4923" width="209" height="35"/>
<text x="530" y="4937"><tspan class="h">vmp_import.0000000140260F73</tspan><tspan x="537" dy="11"><tspan class="r">jne</tspan> <tspan class="n">vmp_import.140261019</tspan></tspan></text></g>

<g id="n_261019"><rect class="sh" x="168" y="4997" width="336" height="79"/><rect class="bx" x="164" y="4993" width="336" height="79"/>
<text x="170" y="5007"><tspan class="h">vmp_import.0000000140261019</tspan><tspan x="177" dy="11"><tspan class="m">cmp</tspan> byte ptr ds:[rbx+1],23 <tspan class="c">; 23:'#'</tspan></tspan><tspan x="177" dy="11"><tspan class="m">movsxd</tspan> rdx,r10d <tspan class="c">; rdx:EntryPoint</tspan></tspan><tspan x="177" dy="11"><tspan class="m">lea</tspan> rdx,qword ptr ds:[rbx+1] <tspan class="c">; rdx:EntryPoint</tspan></tspan><tspan x="177" dy="11" class="g">jmp vmp_import.140261029</tspan><tspan x="177" dy="11"><tspan class="r">jne</tspan> <tspan class="n">vmp_import.140261090</tspan></tspan></text></g>

<g id="n_F79"><rect class="sh" x="814" y="4997" width="223" height="57"/><rect class="bx" x="810" y="4993" width="223" height="57"/>
<text x="816" y="5007"><tspan class="h">vmp_import.0000000140260F79</tspan><tspan x="823" dy="11"><tspan class="m">cmp</tspan> byte ptr ss:[rsp+180],dil</tspan><tspan x="823" dy="11" class="g">jmp vmp_import.140260F86</tspan><tspan x="823" dy="11"><tspan class="r">je</tspan> <tspan class="n">vmp_import.140260FFE</tspan></tspan></text></g>

<g id="n_26102F"><rect class="sh" x="223" y="5102" width="225" height="79"/><rect class="bx" x="219" y="5098" width="225" height="79"/>
<text x="225" y="5112"><tspan class="h">vmp_import.000000014026102F</tspan><tspan x="232" dy="11"><tspan class="m">movzx</tspan> edx,byte ptr ds:[rbx+2]</tspan><tspan x="232" dy="11"><tspan class="m">add</tspan> rbx,2</tspan><tspan x="232" dy="11"><tspan class="m">clc</tspan></tspan><tspan x="232" dy="11"><tspan class="m">test</tspan> dl,dl</tspan><tspan x="232" dy="11"><tspan class="r">je</tspan> <tspan class="n">vmp_import.140261088</tspan></tspan></text></g>

<g id="n_F8C"><rect class="sh" x="755" y="5102" width="343" height="90"/><rect class="bx" x="751" y="5098" width="343" height="90"/>
<text x="757" y="5112"><tspan class="h">vmp_import.0000000140260F8C</tspan><tspan x="764" dy="11"><tspan class="m">lea</tspan> rax,qword ptr ss:[rsp+40] <tspan class="c">; rax:EntryPoint</tspan></tspan><tspan x="764" dy="11"><tspan class="m">btr</tspan> rcx,r15</tspan><tspan x="764" dy="11"><tspan class="m">btc</tspan> dx,E8</tspan><tspan x="764" dy="11"><tspan class="m">cqo</tspan></tspan><tspan x="764" dy="11"><tspan class="m">sub</tspan> rbp,rax <tspan class="c">; rax:EntryPoint</tspan></tspan><tspan x="764" dy="11"><tspan class="m">nop</tspan></tspan></text></g>

<g id="n_261040"><rect class="sh" x="216" y="5219" width="238" height="46"/><rect class="bx" x="212" y="5215" width="238" height="46"/>
<text x="218" y="5229"><tspan class="h">vmp_import.0000000140261040</tspan><tspan x="225" dy="11"><tspan class="m">nop</tspan></tspan><tspan x="225" dy="11"><tspan class="m">movsx</tspan> rax,r13w <tspan class="c">; rax:EntryPoint</tspan></tspan></text></g>

<g id="n_FA0"><rect class="sh" x="736" y="5219" width="379" height="211"/><rect class="bx" x="732" y="5215" width="379" height="211"/>
<text x="738" y="5229"><tspan class="h">vmp_import.0000000140260FA0</tspan><tspan x="745" dy="11"><tspan class="m">lea</tspan> rdx,qword ptr ss:[rsp+rdi+40] <tspan class="c">; rdx:EntryPoint</tspan></tspan><tspan x="745" dy="11"><tspan class="m">mov</tspan> rax,rsp <tspan class="c">; rax:EntryPoint</tspan></tspan><tspan x="745" dy="11"><tspan class="m">mov</tspan> ecx,edi</tspan><tspan x="745" dy="11"><tspan class="m">mov</tspan> eax,5FD85A89</tspan><tspan x="745" dy="11"><tspan class="m">cmc</tspan></tspan><tspan x="745" dy="11"><tspan class="m">clc</tspan></tspan><tspan x="745" dy="11"><tspan class="m">rol</tspan> eax,cl</tspan><tspan x="745" dy="11"><tspan class="m">cmp</tspan> r12b,sil</tspan><tspan x="745" dy="11"><tspan class="m">test</tspan> rdx,3EB43852 <tspan class="c">; rdx:EntryPoint</tspan></tspan><tspan x="745" dy="11"><tspan class="m">add</tspan> al,dil</tspan><tspan x="745" dy="11"><tspan class="m">test</tspan> dil,r14b</tspan><tspan x="745" dy="11"><tspan class="m">cmp</tspan> r10b,spl</tspan><tspan x="745" dy="11"><tspan class="m">xor</tspan> al,byte ptr ds:[rdx+rbp] <tspan class="c">; rdx+rbp*1:EntryPoint</tspan></tspan><tspan x="745" dy="11" class="g">jmp vmp_import.140260FCE</tspan><tspan x="745" dy="11"><tspan class="m">mov</tspan> byte ptr ds:[rdx],al <tspan class="c">; rdx:EntryPoint</tspan></tspan><tspan x="745" dy="11" class="g">jmp vmp_import.140260FD5</tspan><tspan x="745" dy="11"><tspan class="r">je</tspan> <tspan class="n">vmp_import.140260FF4</tspan></tspan></text></g>

<g id="n_261045"><rect class="sh" x="223" y="5458" width="225" height="124"/><rect class="bx" x="219" y="5454" width="225" height="124"/>
<text x="225" y="5468"><tspan class="h">vmp_import.0000000140261045</tspan><tspan x="232" dy="11"><tspan class="m">lea</tspan> eax,qword ptr ds:[rdx-30]</tspan><tspan x="232" dy="11" class="g">jmp vmp_import.14026104D</tspan><tspan x="232" dy="11"><tspan class="m">inc</tspan> rbx</tspan><tspan x="232" dy="11"><tspan class="m">clc</tspan></tspan><tspan x="232" dy="11"><tspan class="m">cmc</tspan></tspan><tspan x="232" dy="11"><tspan class="m">cmp</tspan> dil,r10b</tspan><tspan x="232" dy="11"><tspan class="m">cmp</tspan> al,9 <tspan class="c">; 9:'\t'</tspan></tspan><tspan x="232" dy="11" class="g">jmp vmp_import.14026105C</tspan><tspan x="232" dy="11"><tspan class="r">ja</tspan> <tspan class="n">vmp_import.140261088</tspan></tspan></text></g>

<g id="n_FDB"><rect class="sh" x="821" y="5458" width="210" height="90"/><rect class="bx" x="817" y="5454" width="210" height="90"/>
<text x="823" y="5468"><tspan class="h">vmp_import.0000000140260FDB</tspan><tspan x="830" dy="11"><tspan class="m">inc</tspan> rdi</tspan><tspan x="830" dy="11"><tspan class="m">cmc</tspan></tspan><tspan x="830" dy="11"><tspan class="m">cmp</tspan> dil,r12b</tspan><tspan x="830" dy="11"><tspan class="m">cmp</tspan> rdi,104</tspan><tspan x="830" dy="11" class="g">jmp vmp_import.140260FEE</tspan><tspan x="830" dy="11"><tspan class="r">jb</tspan> <tspan class="n">vmp_import.140260FA0</tspan></tspan></text></g>

<g id="n_261062"><rect class="sh" x="202" y="5616" width="267" height="134"/><rect class="bx" x="198" y="5612" width="267" height="134"/>
<text x="204" y="5626"><tspan class="h">vmp_import.0000000140261062</tspan><tspan x="211" dy="11"><tspan class="m">movsx</tspan> eax,dl</tspan><tspan x="211" dy="11"><tspan class="m">movzx</tspan> edx,byte ptr ds:[rbx]</tspan><tspan x="211" dy="11"><tspan class="m">rcr</tspan> cl,cl</tspan><tspan x="211" dy="11"><tspan class="m">lea</tspan> ecx,qword ptr ds:[rdi+rdi*4]</tspan><tspan x="211" dy="11"><tspan class="m">bts</tspan> di,r12w</tspan><tspan x="211" dy="11"><tspan class="m">lea</tspan> edi,qword ptr ds:[rax+rcx*2-30]</tspan><tspan x="211" dy="11" class="g">jmp vmp_import.14026107B</tspan><tspan x="211" dy="11"><tspan class="m">test</tspan> dl,dl</tspan><tspan x="211" dy="11" class="g">jmp vmp_import.140261082</tspan><tspan x="211" dy="11"><tspan class="r">jne</tspan> <tspan class="n">vmp_import.140261045</tspan></tspan></text></g>

<g id="n_FF4"><rect class="sh" x="814" y="5616" width="223" height="57"/><rect class="bx" x="810" y="5612" width="223" height="57"/>
<text x="816" y="5626"><tspan class="h">vmp_import.0000000140260FF4</tspan><tspan x="823" dy="11"><tspan class="m">lea</tspan> rbp,qword ptr ss:[rsp+40]</tspan><tspan x="823" dy="11"><tspan class="m">bswap</tspan> dx</tspan><tspan x="823" dy="11"><tspan class="m">cbw</tspan></tspan></text></g>

<g id="n_261088"><rect class="sh" x="216" y="5793" width="238" height="57"/><rect class="bx" x="212" y="5789" width="238" height="57"/>
<text x="218" y="5803"><tspan class="h">vmp_import.0000000140261088</tspan><tspan x="225" dy="11"><tspan class="m">movsxd</tspan> rdx,edi <tspan class="c">; rdx:EntryPoint</tspan></tspan><tspan x="225" dy="11"><tspan class="m">bt</tspan> cx,bx</tspan><tspan x="225" dy="11"><tspan class="m">stc</tspan></tspan></text></g>

<g id="n_FFE"><rect class="shb" x="702" y="5793" width="448" height="101"/><rect class="bx" x="698" y="5789" width="448" height="101"/>
<text x="704" y="5803"><tspan class="h">vmp_import.0000000140260FFE</tspan><tspan x="711" dy="11"><tspan class="m">mov</tspan> rdx,rbp <tspan class="c">; rdx:EntryPoint</tspan></tspan><tspan x="711" dy="11"><tspan class="m">mov</tspan> rcx,rsi</tspan><tspan x="711" dy="11"><tspan class="m">bswap</tspan> ax</tspan><tspan x="711" dy="11"><tspan class="m">movzx</tspan> eax,r13w</tspan><tspan x="711" dy="11"><tspan class="m">mov</tspan> rax,qword ptr ds:[<tspan class="n">&lt;&amp;GetProcAddressStub&gt;</tspan>] <tspan class="c">; rax:EntryPoint</tspan></tspan><tspan x="711" dy="11"><tspan class="r">call</tspan> rax <tspan class="c">; rax:EntryPoint</tspan></tspan><tspan x="711" dy="11"><tspan class="r">jmp</tspan> <tspan class="n">vmp_import.1402610A8</tspan></tspan></text></g>

<g id="n_261090"><rect class="sh" x="223" y="5921" width="225" height="79"/><rect class="bx" x="219" y="5917" width="225" height="79"/>
<text x="225" y="5931"><tspan class="h">vmp_import.0000000140261090</tspan><tspan x="232" dy="11"><tspan class="m">sub</tspan> r8d,r8d</tspan><tspan x="232" dy="11"><tspan class="m">movsx</tspan> cx,dh</tspan><tspan x="232" dy="11"><tspan class="m">mov</tspan> rcx,r11</tspan><tspan x="232" dy="11"><tspan class="r">call</tspan> <tspan class="n">&lt;vmp_import.vmp_get_imp&gt;</tspan></tspan><tspan x="232" dy="11"><tspan class="r">jmp</tspan> <tspan class="n">vmp_import.1402610A8</tspan></tspan></text></g>

<g id="n_2610A8"><rect class="shr" x="221" y="6043" width="230" height="145"/><rect class="bx" x="217" y="6039" width="230" height="145"/>
<text x="223" y="6053"><tspan class="h">vmp_import.00000001402610A8</tspan><tspan x="230" dy="11"><tspan class="m">mov</tspan> rbx,qword ptr ss:[rsp+178]</tspan><tspan x="230" dy="11"><tspan class="m">test</tspan> r15b,1B</tspan><tspan x="230" dy="11"><tspan class="m">mov</tspan> rdi,qword ptr ss:[rsp+150]</tspan><tspan x="230" dy="11"><tspan class="m">and</tspan> bp,72F0</tspan><tspan x="230" dy="11"><tspan class="m">sar</tspan> sil,DB</tspan><tspan x="230" dy="11"><tspan class="m">add</tspan> rsp,158</tspan><tspan x="230" dy="11"><tspan class="m">pop</tspan> rsi</tspan><tspan x="230" dy="11"><tspan class="m">movsx</tspan> bp,bl</tspan><tspan x="230" dy="11"><tspan class="m">pop</tspan> rbp</tspan><tspan x="230" dy="11" class="g">jmp vmp_import.1402610D7</tspan><tspan x="230" dy="11" class="r">ret</tspan></text></g>
</svg>
